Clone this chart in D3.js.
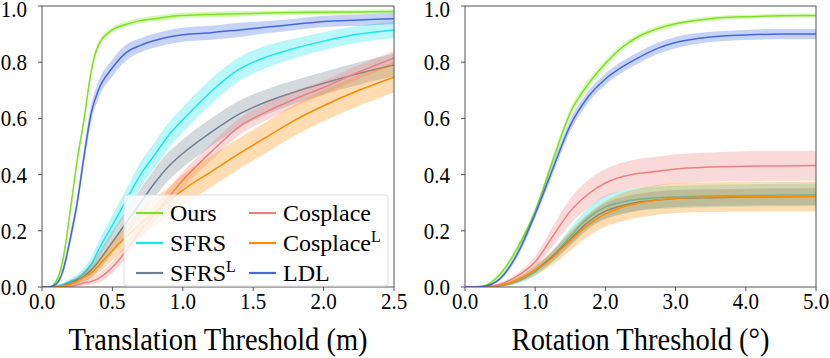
<!DOCTYPE html>
<html>
<head>
<meta charset="utf-8">
<script src="https://cdn.jsdelivr.net/npm/d3@7"></script>
<style>
body { margin: 0; background: #fff; }
svg text { font-family: "Liberation Serif", "Times New Roman", serif; fill: #000; }
</style>
</head>
<body>
<div id="chart"></div>
<script>
// series names / colours (legend order)
var names = ["Ours", "SFRS", "SFRS|L", "Cosplace", "Cosplace|L", "LDL"];
var colors = ["#7de31f", "#19e6ef", "#708090", "#ee8080", "#ff8c00", "#4169e1"];

// translation panel (m)
var transX = [0, 0.05, 0.1, 0.15, 0.2, 0.25, 0.3, 0.35, 0.4, 0.5, 0.6, 0.7, 0.8, 0.9, 1.0, 1.2, 1.4, 1.6, 1.8, 2.0, 2.25, 2.5];
var transOurs   = [0, 0, 0.02, 0.1, 0.27, 0.45, 0.6, 0.77, 0.86, 0.915, 0.935, 0.948, 0.955, 0.962, 0.966, 0.97, 0.972, 0.975, 0.977, 0.978, 0.979, 0.98];
var transSfrs   = [0, 0, 0.003, 0.01, 0.02, 0.03, 0.05, 0.08, 0.13, 0.22, 0.31, 0.4, 0.47, 0.54, 0.595, 0.695, 0.775, 0.82, 0.85, 0.875, 0.9, 0.915];
var transSfrsL  = [0, 0, 0, 0.005, 0.015, 0.025, 0.04, 0.06, 0.09, 0.16, 0.23, 0.3, 0.37, 0.43, 0.475, 0.55, 0.615, 0.66, 0.695, 0.725, 0.76, 0.79];
var transCos    = [0, 0, 0, 0, 0.003, 0.008, 0.015, 0.02, 0.03, 0.07, 0.13, 0.2, 0.26, 0.32, 0.38, 0.48, 0.57, 0.625, 0.67, 0.71, 0.765, 0.815];
var transCosL   = [0, 0, 0, 0.005, 0.01, 0.02, 0.035, 0.05, 0.075, 0.13, 0.18, 0.225, 0.265, 0.305, 0.345, 0.41, 0.475, 0.535, 0.595, 0.645, 0.7, 0.747];
var transLdl    = [0, 0, 0.01, 0.06, 0.17, 0.3, 0.47, 0.62, 0.7, 0.78, 0.835, 0.86, 0.877, 0.89, 0.898, 0.905, 0.915, 0.925, 0.935, 0.945, 0.95, 0.955];
// half-width of shaded band
var transOursSd  = [0, 0, 0.01, 0.015, 0.015, 0.015, 0.015, 0.015, 0.012, 0.01, 0.01, 0.01, 0.01, 0.01, 0.01, 0.01, 0.01, 0.008, 0.008, 0.008, 0.008, 0.008];
var transSfrsSd  = [0, 0, 0.002, 0.005, 0.01, 0.015, 0.02, 0.025, 0.03, 0.035, 0.04, 0.045, 0.045, 0.045, 0.045, 0.045, 0.042, 0.04, 0.035, 0.032, 0.03, 0.03];
var transSfrsLSd = [0, 0, 0, 0.003, 0.008, 0.012, 0.018, 0.025, 0.03, 0.04, 0.045, 0.05, 0.05, 0.05, 0.05, 0.05, 0.048, 0.045, 0.042, 0.04, 0.04, 0.04];
var transCosSd   = [0, 0, 0, 0, 0.003, 0.006, 0.01, 0.012, 0.015, 0.02, 0.025, 0.025, 0.03, 0.03, 0.03, 0.03, 0.03, 0.03, 0.028, 0.025, 0.025, 0.025];
var transCosLSd  = [0, 0, 0, 0.003, 0.006, 0.01, 0.015, 0.02, 0.025, 0.035, 0.04, 0.045, 0.05, 0.05, 0.055, 0.055, 0.055, 0.055, 0.055, 0.055, 0.055, 0.055];
var transLdlSd   = [0, 0, 0.005, 0.015, 0.02, 0.025, 0.03, 0.03, 0.03, 0.03, 0.028, 0.025, 0.025, 0.025, 0.025, 0.025, 0.025, 0.022, 0.02, 0.02, 0.02, 0.02];

// rotation panel (deg)
var rotX = [0, 0.25, 0.5, 0.75, 1.0, 1.25, 1.5, 1.75, 2.0, 2.25, 2.5, 2.75, 3.0, 3.5, 4.0, 4.5, 5.0];
var rotOurs  = [0, 0.003, 0.045, 0.14, 0.27, 0.45, 0.62, 0.72, 0.795, 0.855, 0.895, 0.92, 0.937, 0.955, 0.962, 0.965, 0.966];
var rotSfrs  = [0, 0, 0.005, 0.02, 0.055, 0.11, 0.18, 0.245, 0.285, 0.303, 0.313, 0.318, 0.32, 0.324, 0.326, 0.327, 0.328];
var rotSfrsL = [0, 0, 0.005, 0.025, 0.06, 0.11, 0.17, 0.23, 0.27, 0.29, 0.303, 0.31, 0.315, 0.318, 0.32, 0.321, 0.322];
var rotCos   = [0, 0, 0.01, 0.04, 0.09, 0.18, 0.27, 0.33, 0.37, 0.393, 0.405, 0.412, 0.42, 0.427, 0.43, 0.431, 0.432];
var rotCosL  = [0, 0, 0.005, 0.025, 0.06, 0.105, 0.165, 0.22, 0.26, 0.285, 0.3, 0.31, 0.316, 0.32, 0.321, 0.322, 0.322];
var rotLdl   = [0, 0.002, 0.03, 0.12, 0.26, 0.42, 0.575, 0.675, 0.74, 0.785, 0.82, 0.85, 0.87, 0.89, 0.897, 0.9, 0.9];
var rotOursSd  = [0, 0.002, 0.008, 0.01, 0.012, 0.015, 0.015, 0.015, 0.013, 0.012, 0.01, 0.01, 0.008, 0.008, 0.007, 0.007, 0.007];
var rotSfrsSd  = [0, 0, 0.003, 0.008, 0.015, 0.02, 0.03, 0.035, 0.04, 0.04, 0.04, 0.04, 0.04, 0.04, 0.04, 0.04, 0.04];
var rotSfrsLSd = [0, 0, 0.003, 0.008, 0.012, 0.018, 0.022, 0.025, 0.028, 0.03, 0.03, 0.03, 0.03, 0.03, 0.03, 0.03, 0.03];
var rotCosSd   = [0, 0, 0.005, 0.01, 0.02, 0.035, 0.045, 0.05, 0.05, 0.05, 0.052, 0.052, 0.052, 0.052, 0.053, 0.053, 0.053];
var rotCosLSd  = [0, 0, 0.004, 0.01, 0.018, 0.025, 0.035, 0.04, 0.045, 0.05, 0.052, 0.053, 0.053, 0.053, 0.053, 0.053, 0.053];
var rotLdlSd   = [0, 0.002, 0.006, 0.012, 0.015, 0.02, 0.02, 0.02, 0.02, 0.02, 0.02, 0.02, 0.02, 0.018, 0.018, 0.018, 0.018];

var transTicks = [0, 0.5, 1.0, 1.5, 2.0, 2.5];
var rotTicks = [0, 1, 2, 3, 4, 5];
var yTicks = [0, 0.2, 0.4, 0.6, 0.8, 1.0];

var serif = '"Liberation Serif", "Times New Roman", serif';
var width = 830, height = 358;
var svg = d3.select('#chart').append('svg')
	.attr('width', width)
	.attr('height', height);

// text slightly stretched vertically, like the source figure
function label(g, x, y, str, size, anchor, stretch) {
	return g.append('text')
		.attr('transform', 'translate(' + x + ',' + y + ') scale(1,' + stretch + ')')
		.attr('text-anchor', anchor)
		.attr('font-family', serif)
		.style('font-size', size + 'px')
		.text(str);
}

function drawPanel(opts) {
	var x = d3.scaleLinear().domain(opts.domain).range([opts.left, opts.right]);
	var y = d3.scaleLinear().domain([0, 1]).range([287, 6]);
	var g = svg.append('g');

	var clipId = 'clip' + opts.left;
	g.append('clipPath').attr('id', clipId)
		.append('rect')
		.attr('x', opts.left).attr('y', 6)
		.attr('width', opts.right - opts.left).attr('height', 281);

	var plot = g.append('g').attr('clip-path', 'url(#' + clipId + ')');

	opts.means.forEach((m, i) => {
		var pts = opts.xs.map((xv, j) => ({ x: xv, v: m[j], s: opts.sds[i][j] }));
		var area = d3.area()
			.x(d => x(d.x))
			.y0(d => y(Math.max(0, d.v - d.s)))
			.y1(d => y(d.v + d.s))
			.curve(d3.curveMonotoneX);
		var line = d3.line()
			.x(d => x(d.x))
			.y(d => y(d.v))
			.curve(d3.curveMonotoneX);
		plot.append('path')
			.attr('d', area(pts))
			.style('fill', colors[i])
			.style('fill-opacity', 0.3)
			.style('stroke', 'none');
		plot.append('path')
			.attr('d', line(pts))
			.style('fill', 'none')
			.style('stroke', colors[i])
			.style('stroke-width', 1.5);
	});

	// frame
	g.append('rect')
		.attr('x', opts.left).attr('y', 6)
		.attr('width', opts.right - opts.left).attr('height', 281)
		.style('fill', 'none')
		.style('stroke', '#555')
		.style('stroke-width', 1);

	// x ticks
	opts.ticks.forEach(t => {
		g.append('line')
			.attr('x1', x(t)).attr('x2', x(t))
			.attr('y1', 287).attr('y2', 291)
			.style('stroke', '#555');
		label(g, x(t), 309, t.toFixed(1), 21, 'middle', 1.12);
	});
	// y ticks (top label kept inside the picture)
	yTicks.forEach(t => {
		g.append('line')
			.attr('x1', opts.left - 4).attr('x2', opts.left)
			.attr('y1', y(t)).attr('y2', y(t))
			.style('stroke', '#555');
		label(g, opts.left - 15, Math.max(y(t) + 8, 17), t.toFixed(1), 21, 'end', 1.1);
	});

	label(g, (opts.left + opts.right) / 2, 350, opts.title, 28.5, 'middle', 1.12);
}

drawPanel({
	left: 42, right: 394,
	domain: [0, 2.5],
	xs: transX,
	means: [transOurs, transSfrs, transSfrsL, transCos, transCosL, transLdl],
	sds: [transOursSd, transSfrsSd, transSfrsLSd, transCosSd, transCosLSd, transLdlSd],
	ticks: transTicks,
	title: 'Translation Threshold (m)'
});

drawPanel({
	left: 465, right: 816,
	domain: [0, 5],
	xs: rotX,
	means: [rotOurs, rotSfrs, rotSfrsL, rotCos, rotCosL, rotLdl],
	sds: [rotOursSd, rotSfrsSd, rotSfrsLSd, rotCosSd, rotCosLSd, rotLdlSd],
	ticks: rotTicks,
	title: 'Rotation Threshold (°)'
});

// legend
var legend = svg.append('g');
legend.append('rect')
	.attr('x', 124).attr('y', 195)
	.attr('width', 264).attr('height', 91)
	.attr('rx', 3)
	.style('fill', '#fff')
	.style('fill-opacity', 0.8)
	.style('stroke', '#ddd');

names.forEach((n, i) => {
	var col = Math.floor(i / 3), row = i % 3;
	var lx = col === 0 ? 136 : 249;
	var ly = 213 + row * 30;
	legend.append('line')
		.attr('x1', lx).attr('x2', lx + 27)
		.attr('y1', ly).attr('y2', ly)
		.style('stroke', colors[i])
		.style('stroke-width', 2.2);
	var parts = n.split('|');
	var txt = legend.append('text')
		.attr('x', lx + 34).attr('y', ly + 8)
		.attr('font-family', serif)
		.style('font-size', '24px')
		.text(parts[0]);
	if (parts[1]) {
		txt.append('tspan')
			.attr('dy', -9)
			.style('font-size', '16px')
			.text(parts[1]);
	}
});
</script>
</body>
</html>
